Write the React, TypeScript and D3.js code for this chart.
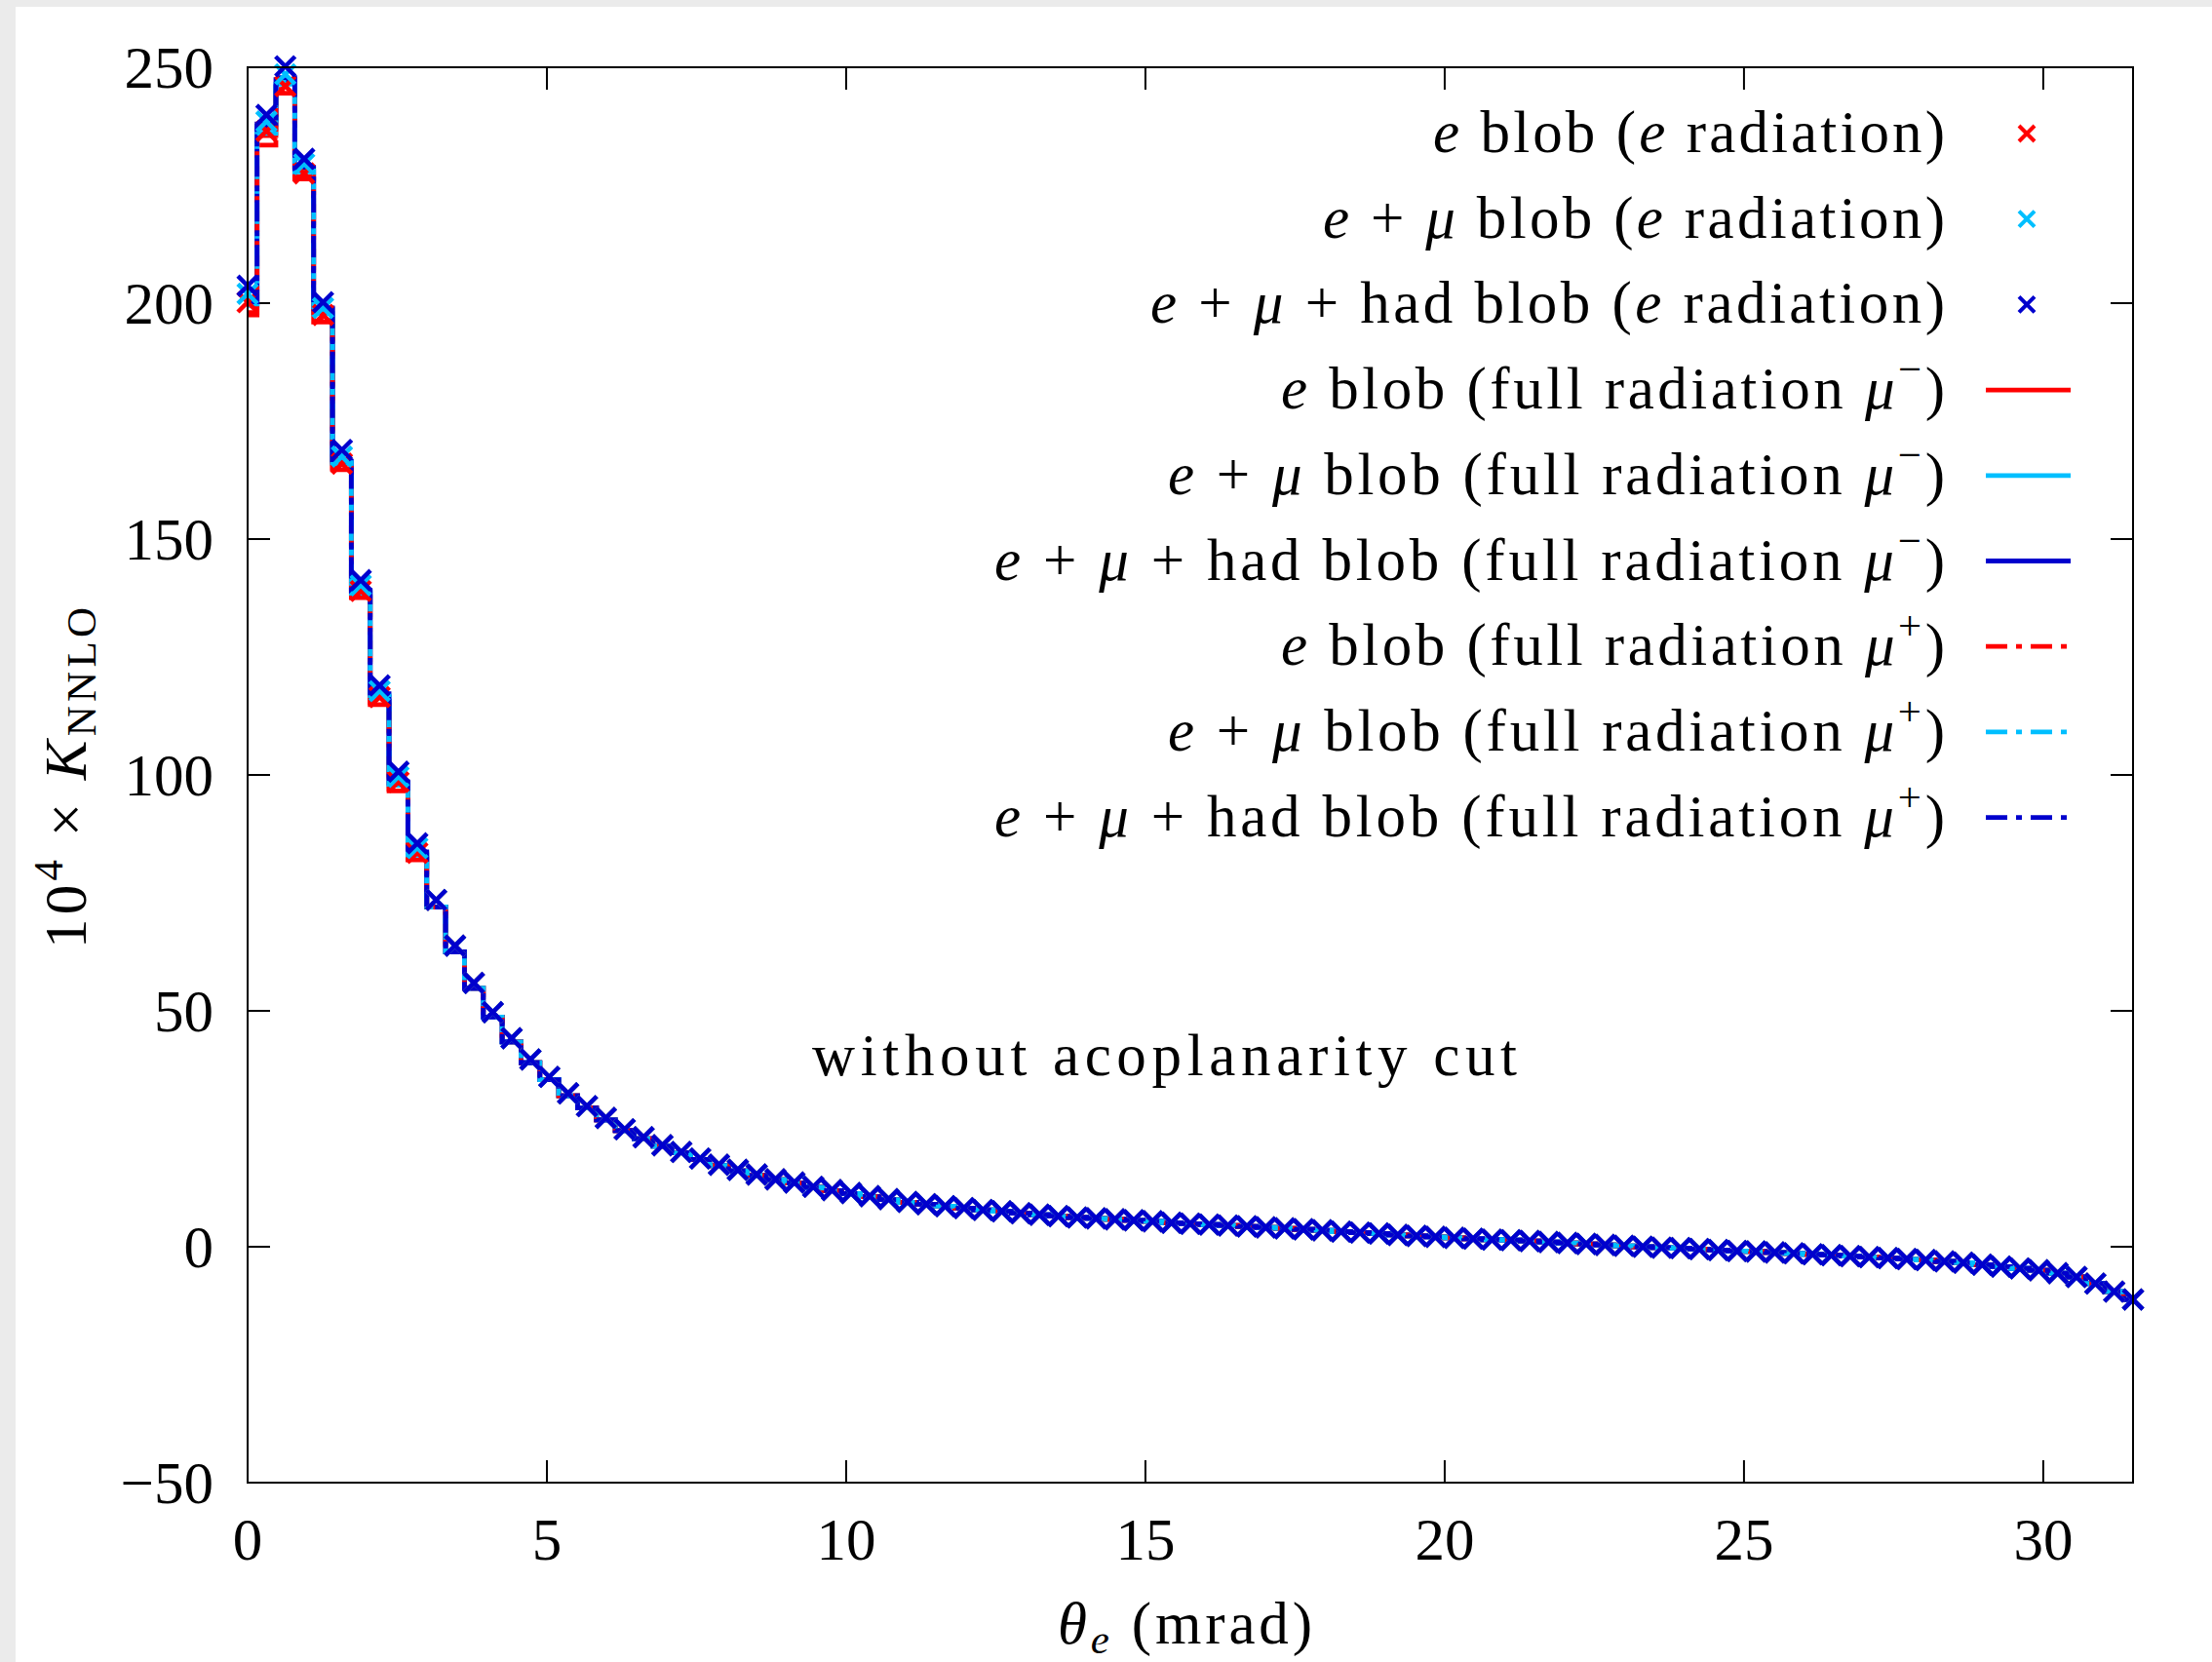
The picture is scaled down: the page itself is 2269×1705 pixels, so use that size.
import React from "react";
import * as d3 from "d3";

const W = 2269;
const H = 1705;

// bins: points every 0.315 mrad from 0 to 31.5
const binWidth = 0.315;
const nPoints = 101;
const xTicks = [0, 5, 10, 15, 20, 25, 30];
const yTicks = [-50, 0, 50, 100, 150, 200, 250];

// first 10 bins per series
const headMkE = [200.2, 236.5, 246.0, 227.5, 197.5, 166.0, 139.0, 116.5, 98.5, 83.5];
const headMkEMu = [202.0, 238.5, 248.5, 229.5, 199.0, 167.5, 140.2, 117.8, 99.6, 84.5];
const headMkEMuHad = [203.7, 239.9, 250.2, 230.6, 200.2, 168.9, 141.3, 119.0, 100.7, 85.5];
const headMinusE = [197.5, 235.5, 244.5, 226.3, 196.0, 164.7, 137.6, 114.9, 96.6, 82.0];
const headMinusEMu = [199.5, 237.0, 246.4, 227.8, 197.8, 166.0, 138.5, 116.5, 97.8, 83.0];
const headMinusEMuHad = [200.0, 238.0, 247.4, 228.5, 198.8, 166.5, 138.9, 117.2, 98.3, 83.5];
const headPlusE = [198.0, 233.5, 245.3, 226.8, 196.5, 165.0, 137.8, 115.3, 97.0, 82.3];
const headPlusEMu = [199.8, 236.0, 246.8, 228.0, 198.0, 166.2, 138.7, 116.8, 98.0, 83.2];
const headPlusEMuHad = [200.3, 237.5, 247.8, 228.8, 199.0, 166.8, 139.1, 117.4, 98.5, 83.7];

// bins 10..100 (e radiation markers)
const markerTail = [
  73.5, 63.8, 55.9, 49.7, 44.2, 39.7, 36.0, 32.5, 29.8, 27.3,
  24.9, 23.2, 21.5, 20.1, 18.7, 17.4, 16.3, 15.3, 14.3, 13.6,
  12.7, 12.0, 11.4, 10.7, 10.1, 9.5, 9.0, 8.6, 8.2, 7.8,
  7.5, 7.1, 6.8, 6.5, 6.2, 6.0, 5.8, 5.6, 5.4, 5.1,
  4.9, 4.7, 4.5, 4.3, 4.1, 3.9, 3.7, 3.5, 3.2, 3.0,
  2.8, 2.5, 2.3, 2.1, 1.9, 1.7, 1.5, 1.4, 1.2, 1.0,
  0.8, 0.6, 0.4, 0.2, 0.0, -0.2, -0.3, -0.5, -0.7, -0.9,
  -1.0, -1.2, -1.4, -1.6, -1.8, -2.0, -2.2, -2.4, -2.6, -2.8,
  -3.1, -3.4, -3.8, -4.2, -4.6, -5.0, -5.6, -6.4, -7.8, -9.5,
  -11.2,
];
// bins 10..35 for the full-radiation lines (rest shared with markers)
const lineTailStart = [
  72.0, 62.5, 54.8, 48.7, 43.4, 39.0, 35.4, 32.0, 29.4, 26.9,
  24.6, 22.9, 21.3, 19.9, 18.5, 17.2, 16.1, 15.1, 14.2, 13.5,
  12.6, 11.9, 11.3, 10.6, 10.0, 9.4,
];
const lineTail = [...lineTailStart, ...markerTail.slice(lineTailStart.length)];

const RED = "#ff0000";
const CYAN = "#00bfff";
const BLUE = "#0000cd";

type Seg = { t: string; s?: "i" | "sup" };
const lbl = {
  e: [{ t: "e", s: "i" }] as Seg[],
  emu: [{ t: "e", s: "i" }, { t: " + " }, { t: "μ", s: "i" }] as Seg[],
  emuhad: [{ t: "e", s: "i" }, { t: " + " }, { t: "μ", s: "i" }, { t: " + had" }] as Seg[],
};
const eRad: Seg[] = [{ t: " blob (" }, { t: "e", s: "i" }, { t: " radiation)" }];
const fullMinus: Seg[] = [{ t: " blob (full radiation " }, { t: "μ", s: "i" }, { t: "−", s: "sup" }, { t: ")" }];
const fullPlus: Seg[] = [{ t: " blob (full radiation " }, { t: "μ", s: "i" }, { t: "+", s: "sup" }, { t: ")" }];

type Series = { name: Seg[]; color: string; kind: "marker" | "solid" | "dashdot"; values: number[] };
const series: Series[] = [
  { name: [...lbl.e, ...eRad], color: RED, kind: "marker", values: [...headMkE, ...markerTail] },
  { name: [...lbl.emu, ...eRad], color: CYAN, kind: "marker", values: [...headMkEMu, ...markerTail] },
  { name: [...lbl.emuhad, ...eRad], color: BLUE, kind: "marker", values: [...headMkEMuHad, ...markerTail] },
  { name: [...lbl.e, ...fullMinus], color: RED, kind: "solid", values: [...headMinusE, ...lineTail] },
  { name: [...lbl.emu, ...fullMinus], color: CYAN, kind: "solid", values: [...headMinusEMu, ...lineTail] },
  { name: [...lbl.emuhad, ...fullMinus], color: BLUE, kind: "solid", values: [...headMinusEMuHad, ...lineTail] },
  { name: [...lbl.e, ...fullPlus], color: RED, kind: "dashdot", values: [...headPlusE, ...lineTail] },
  { name: [...lbl.emu, ...fullPlus], color: CYAN, kind: "dashdot", values: [...headPlusEMu, ...lineTail] },
  { name: [...lbl.emuhad, ...fullPlus], color: BLUE, kind: "dashdot", values: [...headPlusEMuHad, ...lineTail] },
];
// rendered widths of the legend texts
const legendWidths = [525, 638, 815, 681, 797, 975, 681, 797, 975];

const FONT = "'Liberation Serif', 'DejaVu Serif', serif";
const FS = 61;
const LW = 4.8;
const DASH = "22 9 6 9";

function Label({ segs }: { segs: Seg[] }) {
  return (
    <>
      {segs.map((s, i) => {
        if (s.s === "sup")
          return (
            <tspan key={i} fontSize={FS * 0.7} dy={-26} fontStyle="normal">
              {s.t}
            </tspan>
          );
        const prevSup = i > 0 && segs[i - 1].s === "sup";
        return (
          <tspan key={i} fontStyle={s.s === "i" ? "italic" : "normal"} dy={prevSup ? 26 : 0} style={{ whiteSpace: "pre" }}>
            {s.t}
          </tspan>
        );
      })}
    </>
  );
}

function Cross({ x, y, color, s = 10, w = 4.5 }: { x: number; y: number; color: string; s?: number; w?: number }) {
  return (
    <path
      d={`M${x - s},${y - s}L${x + s},${y + s}M${x - s},${y + s}L${x + s},${y - s}`}
      stroke={color}
      strokeWidth={w}
      fill="none"
    />
  );
}

export default function App() {
  const L = 254, R = 2188, T = 69, B = 1521;
  const x = d3.scaleLinear().domain([0, 31.5]).range([L, R]);
  const y = d3.scaleLinear().domain([-50, 250]).range([B, T]);
  const xs = d3.range(nPoints).map((k) => k * binWidth);

  const line = d3
    .line<number>()
    .x((_, i) => x(xs[i]))
    .y((d) => y(d))
    .curve(d3.curveStep);

  const tickLen = 23;
  const legendTop = 137;
  const legendStep = 87.7;
  const legendTextRight = 1995;

  return (
    <div style={{ position: "absolute", left: 0, top: 0 }}>
      <svg width={W} height={H} viewBox={`0 0 ${W} ${H}`} style={{ display: "block" }}>
        <rect x={0} y={0} width={W} height={H} fill="#ebebeb" />
        <rect x={16} y={7} width={W - 16} height={H - 7} fill="#ffffff" />
        <defs>
          <clipPath id="plotclip">
            <rect x={L} y={T} width={R - L} height={B - T} />
          </clipPath>
        </defs>

        {/* ticks */}
        <g stroke="#000" strokeWidth={2}>
          {yTicks.map((t) => (
            <g key={"y" + t}>
              <line x1={L} x2={L + tickLen} y1={y(t)} y2={y(t)} />
              <line x1={R} x2={R - tickLen} y1={y(t)} y2={y(t)} />
            </g>
          ))}
          {xTicks.map((t) => (
            <g key={"x" + t}>
              <line x1={x(t)} x2={x(t)} y1={B} y2={B - tickLen} />
              <line x1={x(t)} x2={x(t)} y1={T} y2={T + tickLen} />
            </g>
          ))}
        </g>

        {/* tick labels */}
        <g fontFamily={FONT} fontSize={61} fill="#000">
          {yTicks.map((t) => (
            <text key={"yl" + t} x={219} y={y(t) + 21} textAnchor="end">
              {t < 0 ? "−" + Math.abs(t) : String(t)}
            </text>
          ))}
          {xTicks.map((t) => (
            <text key={"xl" + t} x={x(t)} y={1600} textAnchor="middle">
              {String(t)}
            </text>
          ))}
        </g>

        {/* axis titles */}
        <text x={1085} y={1686} fontFamily={FONT} fontSize={61} textLength={261} lengthAdjust="spacing">
          <tspan fontStyle="italic">θ</tspan>
          <tspan fontStyle="italic" fontSize={43} dy={10}>e</tspan>
          <tspan dy={-10} style={{ whiteSpace: "pre" }}> (mrad)</tspan>
        </text>
        <text
          transform="translate(88,973) rotate(-90)"
          fontFamily={FONT}
          fontSize={61}
          textLength={350}
          lengthAdjust="spacing"
        >
          <tspan>10</tspan>
          <tspan fontSize={43} dy={-24}>4</tspan>
          <tspan dy={24} style={{ whiteSpace: "pre" }}> × </tspan>
          <tspan fontStyle="italic">K</tspan>
          <tspan fontSize={43} dy={10}>NNLO</tspan>
        </text>

        <text x={833} y={1103} fontFamily={FONT} fontSize={61} textLength={723} lengthAdjust="spacing">
          without acoplanarity cut
        </text>

        {/* data */}
        <g clipPath="url(#plotclip)">
          {series
            .filter((s) => s.kind !== "marker")
            .map((s, i) => (
              <path
                key={"l" + i}
                d={line(s.values) || ""}
                fill="none"
                stroke={s.color}
                strokeWidth={LW}
                strokeDasharray={s.kind === "dashdot" ? DASH : undefined}
              />
            ))}
        </g>
        {series
          .filter((s) => s.kind === "marker")
          .map((s, i) => (
            <g key={"m" + i}>
              {s.values.map((v, k) => (
                <Cross key={k} x={x(xs[k])} y={y(v)} color={s.color} />
              ))}
            </g>
          ))}

        {/* frame */}
        <rect x={L} y={T} width={R - L} height={B - T} fill="none" stroke="#000" strokeWidth={2} />

        {/* legend */}
        <g fontFamily={FONT} fontSize={FS}>
          {series.map((s, i) => {
            const cy = legendTop + i * legendStep;
            return (
              <g key={"lg" + i}>
                <text
                  x={legendTextRight - legendWidths[i]}
                  y={cy + 19}
                  textLength={legendWidths[i]}
                  lengthAdjust="spacing"
                >
                  <Label segs={s.name} />
                </text>
                {s.kind === "marker" ? (
                  <Cross x={2079} y={cy} color={s.color} s={8} w={4} />
                ) : (
                  <line
                    x1={2037}
                    x2={2124}
                    y1={cy}
                    y2={cy}
                    stroke={s.color}
                    strokeWidth={LW}
                    strokeDasharray={s.kind === "dashdot" ? DASH : undefined}
                  />
                )}
              </g>
            );
          })}
        </g>
      </svg>
    </div>
  );
}
